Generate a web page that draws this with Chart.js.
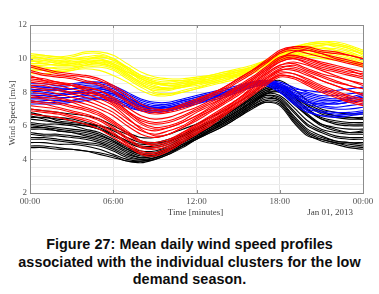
<!DOCTYPE html>
<html><head><meta charset="utf-8">
<script src="https://cdn.jsdelivr.net/npm/chart.js@4.4.1/dist/chart.umd.min.js"></script>
<style>
html,body{margin:0;padding:0;background:#fff;width:379px;height:294px;overflow:hidden}
#wrap{position:relative;width:379px;height:222px}
#cap{position:absolute;left:0;top:236px;width:379px;text-align:center;font:bold 14.4px "Liberation Sans",Arial,sans-serif;line-height:17.6px;color:#0d0d0d;letter-spacing:0.05px}
</style></head><body>
<div id="wrap"><canvas id="c" width="379" height="222"></canvas></div>
<div id="cap">Figure 27: Mean daily wind speed profiles<br>associated with the individual clusters for the low<br>demand season.</div>
<script>
const hours = [0,1,2,3,4,5,6,7,8,9,10,11,12,13,14,15,16,17,18,19,20,21,22,23,24];
const xTickLabels = ['00:00','06:00','12:00','18:00','00:00'];
const yTickLabels = [2,4,6,8,10,12];

const yellowLines = [
 [10.3,10.2,10.1,10.2,10.4,10.4,10.2,9.7,9.2,8.9,8.8,8.8,8.9,9.0,9.2,9.3,9.5,9.8,10.2,10.6,10.9,11.0,11.0,10.8,10.5],
 [10.1,10.0,9.9,10.0,10.1,10.2,10.0,9.5,9.0,8.7,8.6,8.7,8.8,8.9,9.1,9.3,9.5,9.9,10.3,10.5,10.7,10.8,10.9,10.7,10.4],
 [9.9,9.8,9.8,9.9,10.0,10.0,9.7,9.2,8.8,8.5,8.5,8.6,8.7,8.9,9.0,9.2,9.4,9.7,10.0,10.3,10.5,10.6,10.6,10.4,10.1],
 [9.7,9.7,9.6,9.6,9.8,9.9,9.6,9.1,8.6,8.3,8.3,8.4,8.6,8.8,8.9,9.1,9.4,9.8,10.1,10.4,10.6,10.7,10.5,10.3,10.0],
 [9.5,9.4,9.5,9.5,9.6,9.6,9.4,8.9,8.4,8.1,8.1,8.3,8.5,8.6,8.8,9.0,9.3,9.6,9.9,10.2,10.4,10.4,10.3,10.1,9.8],
 [10.2,10.0,9.8,9.7,9.8,9.8,9.5,9.0,8.5,8.2,8.2,8.4,8.6,8.7,8.9,9.1,9.4,9.7,10.0,10.4,10.8,10.9,10.7,10.5,10.3],
 [9.3,9.3,9.2,9.3,9.5,9.5,9.3,8.8,8.3,7.9,7.9,8.1,8.3,8.5,8.7,8.9,9.2,9.6,10.0,10.2,10.3,10.3,10.2,10.0,9.7],
 [9.8,9.9,9.9,9.8,9.8,9.7,9.5,9.2,8.9,8.6,8.4,8.4,8.5,8.7,8.9,9.1,9.3,9.7,10.1,10.5,10.6,10.8,10.8,10.6,10.3],
 [9.1,9.1,9.2,9.3,9.4,9.3,9.0,8.6,8.1,7.8,7.8,8.0,8.2,8.4,8.6,8.8,9.1,9.5,9.9,10.1,10.2,10.1,10.0,9.9,9.6],
 [10.0,10.1,10.0,10.1,10.3,10.3,10.0,9.4,8.8,8.5,8.4,8.5,8.7,8.8,9.0,9.2,9.5,9.9,10.3,10.7,10.9,11.0,10.9,10.7,10.4],
 [10.0,9.9,9.7,9.6,9.7,9.9,9.8,9.4,8.9,8.6,8.5,8.6,8.8,8.9,9.1,9.2,9.4,9.8,10.2,10.5,10.6,10.6,10.5,10.3,10.0],
 [9.6,9.6,9.7,9.8,9.9,9.9,9.7,9.3,8.7,8.4,8.2,8.3,8.5,8.7,8.9,9.0,9.3,9.7,10.1,10.3,10.5,10.5,10.4,10.2,9.9],
 [9.4,9.3,9.3,9.4,9.6,9.7,9.5,9.0,8.5,8.0,7.9,8.0,8.2,8.5,8.7,9.0,9.3,9.7,10.0,10.1,10.1,10.0,9.9,9.8,9.5],
 [10.2,10.2,10.1,10.0,10.0,10.1,9.9,9.5,9.0,8.8,8.7,8.7,8.8,9.0,9.2,9.4,9.6,9.9,10.3,10.6,10.8,10.9,10.8,10.6,10.2],
 [9.9,9.7,9.6,9.7,9.9,10.1,9.9,9.4,8.8,8.5,8.4,8.5,8.6,8.8,9.0,9.2,9.5,9.8,10.1,10.2,10.3,10.2,10.0,9.8,9.6],
 [9.6,9.5,9.4,9.4,9.6,9.8,9.6,9.1,8.6,8.3,8.2,8.3,8.4,8.6,8.8,9.0,9.3,9.6,9.9,10.1,10.2,10.2,10.1,9.9,9.7]
];
const blueLines = [
 [8.5,8.5,8.4,8.5,8.6,8.6,8.4,8.0,7.6,7.4,7.4,7.6,7.8,8.0,8.2,8.4,8.6,8.7,8.5,8.2,8.1,8.0,8.1,8.2,8.3],
 [8.2,8.1,8.1,8.2,8.3,8.3,8.1,7.7,7.3,7.1,7.2,7.4,7.6,7.8,8.0,8.2,8.5,8.6,8.4,8.0,7.7,7.5,7.5,7.6,7.7],
 [7.9,7.9,7.8,7.9,8.0,8.0,7.8,7.5,7.2,7.0,7.0,7.2,7.5,7.7,7.9,8.1,8.4,8.6,8.3,7.8,7.4,7.2,7.1,7.2,7.3],
 [7.6,7.6,7.6,7.7,7.8,7.8,7.6,7.3,7.0,6.9,6.9,7.1,7.4,7.6,7.8,8.1,8.3,8.5,8.2,7.6,7.1,6.9,6.8,6.8,6.9],
 [7.3,7.3,7.3,7.4,7.5,7.6,7.5,7.2,6.9,6.8,6.9,7.1,7.3,7.5,7.7,8.0,8.3,8.4,8.0,7.4,6.9,6.6,6.5,6.6,6.7],
 [8.0,8.1,8.2,8.2,8.2,8.1,7.9,7.6,7.3,7.1,7.1,7.3,7.5,7.7,7.9,8.2,8.5,8.7,8.6,8.3,8.0,7.8,7.8,7.9,8.0],
 [7.5,7.4,7.4,7.5,7.7,7.7,7.6,7.3,7.0,6.9,7.0,7.2,7.4,7.6,7.9,8.1,8.4,8.5,8.1,7.5,7.0,6.8,6.7,6.7,6.8],
 [8.3,8.3,8.2,8.2,8.4,8.4,8.2,7.8,7.4,7.2,7.3,7.5,7.7,7.9,8.1,8.3,8.5,8.6,8.4,8.1,7.9,7.7,7.6,7.7,7.9],
 [8.1,8.0,7.9,8.0,8.1,8.2,8.0,7.6,7.2,7.0,7.0,7.2,7.5,7.8,8.0,8.2,8.5,8.6,8.3,7.9,7.6,7.4,7.3,7.4,7.5],
 [7.7,7.7,7.8,7.9,8.0,7.9,7.7,7.4,7.1,7.0,7.1,7.3,7.5,7.7,7.9,8.2,8.4,8.5,8.2,7.7,7.3,7.1,7.0,7.0,7.1],
 [8.4,8.3,8.3,8.4,8.5,8.5,8.3,7.9,7.5,7.3,7.3,7.5,7.7,7.9,8.1,8.3,8.6,8.7,8.5,8.1,7.8,7.6,7.5,7.5,7.6],
 [7.4,7.5,7.5,7.5,7.6,7.6,7.4,7.1,6.9,6.8,6.9,7.1,7.3,7.6,7.8,8.0,8.3,8.4,8.0,7.3,6.8,6.6,6.6,6.7,6.8],
 [7.8,7.8,7.7,7.7,7.9,8.0,7.9,7.5,7.1,6.9,7.0,7.2,7.4,7.7,7.9,8.1,8.4,8.6,8.4,7.9,7.5,7.3,7.3,7.4,7.5],
 [8.1,8.2,8.1,8.0,8.1,8.2,8.0,7.7,7.3,7.1,7.1,7.3,7.6,7.8,8.0,8.3,8.5,8.7,8.4,7.8,7.4,7.3,7.4,7.6,7.8]
];
const redLines = [
 [9.5,9.3,9.1,9.0,8.9,8.7,8.3,7.7,7.1,6.9,7.0,7.3,7.6,7.9,8.3,8.8,9.3,9.9,10.5,10.7,10.6,10.4,10.3,10.2,10.0],
 [9.2,9.0,8.9,8.8,8.6,8.4,8.0,7.4,6.9,6.7,6.8,7.0,7.3,7.7,8.1,8.6,9.1,9.7,10.3,10.5,10.3,10.1,9.9,9.7,9.5],
 [8.9,8.8,8.6,8.5,8.3,8.1,7.7,7.1,6.6,6.4,6.5,6.8,7.1,7.5,7.9,8.4,8.9,9.5,10.1,10.2,10.0,9.8,9.6,9.4,9.2],
 [8.6,8.5,8.4,8.2,8.0,7.8,7.4,6.8,6.3,6.1,6.2,6.5,6.9,7.3,7.7,8.2,8.7,9.3,9.8,10.0,9.7,9.4,9.2,9.0,8.8],
 [8.3,8.2,8.1,7.9,7.7,7.4,7.0,6.4,5.9,5.7,5.9,6.2,6.6,7.0,7.5,8.0,8.5,9.1,9.6,9.7,9.4,9.1,8.9,8.7,8.5],
 [8.0,7.9,7.7,7.5,7.3,7.0,6.6,6.0,5.5,5.3,5.5,5.9,6.3,6.8,7.3,7.8,8.4,9.0,9.5,9.5,9.2,8.9,8.6,8.4,8.2],
 [7.7,7.6,7.4,7.2,7.0,6.7,6.2,5.6,5.1,5.0,5.2,5.6,6.1,6.6,7.1,7.6,8.2,8.8,9.3,9.3,9.0,8.7,8.4,8.1,7.9],
 [7.4,7.3,7.1,6.9,6.7,6.4,5.9,5.3,4.8,4.7,4.9,5.4,5.9,6.4,6.9,7.5,8.1,8.7,9.2,9.1,8.8,8.4,8.1,7.8,7.6],
 [7.0,6.9,6.8,6.6,6.4,6.1,5.6,5.0,4.5,4.4,4.7,5.2,5.7,6.2,6.8,7.4,8.0,8.6,9.0,8.9,8.5,8.1,7.8,7.5,7.3],
 [9.0,8.7,8.5,8.4,8.3,8.1,7.6,6.9,6.2,5.9,6.0,6.3,6.8,7.2,7.7,8.3,8.8,9.4,10.0,10.4,10.5,10.3,10.0,9.8,9.6],
 [8.4,8.4,8.2,8.0,7.9,7.6,7.2,6.5,5.8,5.4,5.5,5.9,6.4,6.9,7.4,8.0,8.6,9.2,9.8,10.0,9.8,9.5,9.3,9.1,8.9],
 [7.8,7.7,7.6,7.4,7.1,6.8,6.3,5.7,5.1,4.8,5.0,5.5,6.0,6.5,7.0,7.6,8.3,8.9,9.4,9.6,9.3,9.0,8.7,8.4,8.2],
 [6.7,6.6,6.5,6.3,6.1,5.8,5.3,4.8,4.3,4.2,4.5,5.0,5.5,6.0,6.6,7.2,7.8,8.4,8.9,8.8,8.4,8.0,7.7,7.4,7.2],
 [9.3,9.1,9.0,8.9,8.7,8.5,8.1,7.5,7.0,6.8,6.9,7.1,7.4,7.8,8.2,8.7,9.2,9.8,10.4,10.6,10.5,10.3,10.1,9.9,9.7],
 [8.7,8.6,8.5,8.4,8.2,7.9,7.5,6.9,6.4,6.2,6.3,6.6,7.0,7.4,7.8,8.3,8.8,9.4,10.0,10.2,10.0,9.7,9.5,9.3,9.0],
 [8.1,8.1,7.9,7.7,7.5,7.2,6.8,6.2,5.7,5.5,5.7,6.0,6.5,6.9,7.4,7.9,8.5,9.1,9.6,9.8,9.6,9.3,9.0,8.7,8.4],
 [7.5,7.4,7.3,7.1,6.9,6.6,6.1,5.5,5.0,4.9,5.1,5.6,6.0,6.5,7.0,7.6,8.2,8.8,9.3,9.4,9.1,8.7,8.4,8.1,7.8],
 [6.9,6.8,6.7,6.5,6.3,6.0,5.5,4.9,4.4,4.3,4.6,5.1,5.6,6.1,6.7,7.3,7.9,8.5,9.0,8.9,8.6,8.2,7.9,7.6,7.4],
 [8.8,8.7,8.6,8.4,8.1,7.8,7.3,6.7,6.1,5.8,5.9,6.2,6.6,7.1,7.6,8.1,8.7,9.3,9.9,10.1,9.9,9.6,9.4,9.2,9.1],
 [7.2,7.1,7.0,6.8,6.6,6.3,5.8,5.2,4.7,4.6,4.8,5.3,5.8,6.3,6.8,7.4,8.0,8.6,9.1,9.1,8.7,8.3,8.0,7.7,7.5],
 [9.6,9.4,9.2,9.1,9.0,8.8,8.4,7.9,7.3,7.0,7.0,7.2,7.5,7.9,8.3,8.8,9.3,9.8,10.4,10.7,10.7,10.5,10.4,10.2,10.0]
];
const blackLines = [
 [7.0,6.9,6.8,6.7,6.6,6.4,6.0,5.6,5.3,5.3,5.5,5.8,6.1,6.5,6.9,7.4,7.9,8.5,8.7,8.2,7.5,7.0,6.8,6.7,6.7],
 [6.7,6.6,6.5,6.4,6.2,6.0,5.7,5.3,5.0,5.0,5.2,5.5,5.9,6.3,6.7,7.2,7.8,8.3,8.5,7.9,7.2,6.7,6.5,6.4,6.4],
 [6.4,6.3,6.2,6.1,6.0,5.8,5.4,5.0,4.7,4.7,4.9,5.3,5.7,6.1,6.5,7.0,7.6,8.1,8.2,7.6,6.9,6.4,6.2,6.1,6.1],
 [6.1,6.0,5.9,5.8,5.7,5.5,5.1,4.7,4.4,4.4,4.7,5.1,5.5,5.9,6.4,6.9,7.5,8.0,8.0,7.3,6.6,6.1,5.9,5.8,5.8],
 [5.8,5.8,5.7,5.6,5.4,5.2,4.9,4.5,4.2,4.3,4.6,5.0,5.4,5.8,6.3,6.8,7.4,7.9,7.8,7.1,6.3,5.8,5.6,5.5,5.5],
 [5.5,5.4,5.4,5.3,5.2,5.0,4.7,4.3,4.1,4.2,4.5,4.9,5.3,5.7,6.2,6.7,7.3,7.8,7.6,6.8,6.0,5.6,5.3,5.2,5.2],
 [5.2,5.2,5.1,5.0,4.9,4.8,4.5,4.1,4.0,4.1,4.4,4.8,5.2,5.7,6.1,6.6,7.2,7.7,7.5,6.6,5.8,5.4,5.1,5.0,4.9],
 [4.8,4.8,4.7,4.6,4.5,4.4,4.2,3.9,3.9,4.0,4.3,4.8,5.2,5.6,6.0,6.5,7.1,7.5,7.4,6.4,5.6,5.2,5.0,4.8,4.7],
 [6.8,6.6,6.3,6.2,6.1,6.0,5.8,5.5,5.1,5.0,5.1,5.4,5.8,6.2,6.6,7.1,7.7,8.2,8.4,7.9,7.3,6.9,6.6,6.5,6.5],
 [5.9,5.9,5.8,5.7,5.6,5.4,5.1,4.6,4.3,4.3,4.6,5.0,5.5,5.9,6.4,6.9,7.4,7.9,8.1,7.5,6.7,6.1,5.8,5.6,5.6],
 [5.0,5.0,4.9,4.9,4.8,4.6,4.3,4.0,3.9,4.1,4.4,4.8,5.3,5.7,6.1,6.6,7.1,7.4,7.2,6.2,5.4,5.2,5.0,4.9,4.8],
 [6.2,6.1,6.1,6.0,5.8,5.6,5.2,4.8,4.5,4.5,4.8,5.2,5.6,6.0,6.4,6.9,7.5,8.0,8.3,7.8,7.0,6.4,6.1,6.0,6.0],
 [6.5,6.5,6.4,6.3,6.1,5.9,5.5,5.1,4.8,4.8,5.0,5.4,5.8,6.2,6.6,7.1,7.7,8.2,8.3,7.7,7.0,6.5,6.3,6.2,6.2],
 [5.6,5.5,5.5,5.4,5.3,5.1,4.8,4.4,4.1,4.2,4.5,4.9,5.3,5.8,6.2,6.7,7.3,7.8,7.7,6.9,6.1,5.7,5.4,5.3,5.3],
 [4.7,4.7,4.6,4.6,4.5,4.3,4.1,3.9,3.8,4.0,4.3,4.7,5.2,5.6,6.0,6.5,7.0,7.4,7.3,6.3,5.5,5.1,4.9,4.7,4.6],
 [6.0,5.9,5.7,5.6,5.5,5.3,5.0,4.6,4.3,4.3,4.6,5.0,5.4,5.9,6.3,6.8,7.4,7.9,8.0,7.4,6.6,6.0,5.7,5.6,5.7],
 [5.3,5.3,5.2,5.1,5.0,4.9,4.6,4.2,4.0,4.1,4.4,4.8,5.3,5.7,6.2,6.7,7.2,7.6,7.5,6.5,5.7,5.3,5.1,5.0,5.0],
 [6.6,6.4,6.2,6.1,6.0,5.8,5.5,5.1,4.9,4.9,5.1,5.4,5.8,6.2,6.6,7.1,7.6,8.1,8.3,7.8,7.2,6.8,6.6,6.5,6.4]
];

const clusters = [
  {lines: redLines, color: '#ff0000', order: 0},
  {lines: yellowLines, color: '#ffff00', order: 1},
  {lines: blueLines, color: '#0000ff', order: 2},
  {lines: blackLines, color: '#000000', order: 3}
];

const datasets = [];
clusters.forEach(cl => {
  cl.lines.forEach(vals => {
    datasets.push({
      data: vals.map((v, i) => ({x: hours[i], y: v})),
      borderColor: cl.color,
      borderWidth: 1.1,
      pointRadius: 0,
      tension: 0.3,
      fill: false,
      order: cl.order
    });
  });
});

const serif = '"Liberation Serif","Times New Roman",serif';

const deco = {
  id: 'deco',
  afterDraw(chart) {
    const {ctx, chartArea: a, scales: {x, y}} = chart;
    ctx.save();
    ctx.strokeStyle = '#8c8c8c';
    ctx.lineWidth = 1;
    ctx.strokeRect(Math.round(a.left) + 0.5, Math.round(a.top) + 0.5, Math.round(a.right - a.left), Math.round(a.bottom - a.top));
    ctx.beginPath();
    yTickLabels.forEach(v => {
      const py = Math.round(y.getPixelForValue(v)) + 0.5;
      ctx.moveTo(a.left, py); ctx.lineTo(a.left + 3, py);
      ctx.moveTo(a.right, py); ctx.lineTo(a.right - 3, py);
    });
    [0, 6, 12, 18, 24].forEach(v => {
      const px = Math.round(x.getPixelForValue(v)) + 0.5;
      ctx.moveTo(px, a.bottom); ctx.lineTo(px, a.bottom - 3);
      ctx.moveTo(px, a.top); ctx.lineTo(px, a.top + 3);
    });
    ctx.stroke();
    ctx.fillStyle = '#444';
    ctx.font = '9px ' + serif;
    ctx.textAlign = 'center';
    ctx.textBaseline = 'middle';
    ctx.fillText('Time [minutes]', x.getPixelForValue(12) - 1, 213);
    ctx.textAlign = 'right';
    ctx.fillText('Jan 01, 2013', a.right - 10, 213);
    ctx.translate(13, (a.top + a.bottom) / 2 + 4);
    ctx.rotate(-Math.PI / 2);
    ctx.textAlign = 'center';
    ctx.fillText('Wind Speed [m/s]', 0, 0);
    ctx.restore();
  }
};

new Chart(document.getElementById('c'), {
  type: 'line',
  data: {datasets},
  options: {
    responsive: false,
    animation: false,
    events: [],
    layout: {padding: {left: 0, right: 16, top: 25, bottom: 0}},
    plugins: {legend: {display: false}, tooltip: {enabled: false}, title: {display: false}},
    scales: {
      x: {
        type: 'linear', min: 0, max: 24,
        afterFit: s => { s.height = 29; },
        grid: {color: '#e4e4e4', drawTicks: false},
        border: {display: false},
        ticks: {
          stepSize: 6, maxRotation: 0, padding: 3, color: '#555',
          font: {family: serif, size: 9},
          callback: v => xTickLabels[Math.round(v / 6)]
        }
      },
      y: {
        min: 2, max: 12,
        afterFit: s => { s.width = 30; },
        grid: {color: c => (c.tick && c.tick.value % 2 === 0) ? '#dcdcdc' : '#ededed', drawTicks: false},
        border: {display: false},
        ticks: {
          stepSize: 0.5, autoSkip: false, padding: 3, color: '#555',
          font: {family: serif, size: 9},
          callback: v => yTickLabels.includes(v) ? String(v) : ''
        }
      }
    }
  },
  plugins: [deco]
});
</script>
</body></html>
